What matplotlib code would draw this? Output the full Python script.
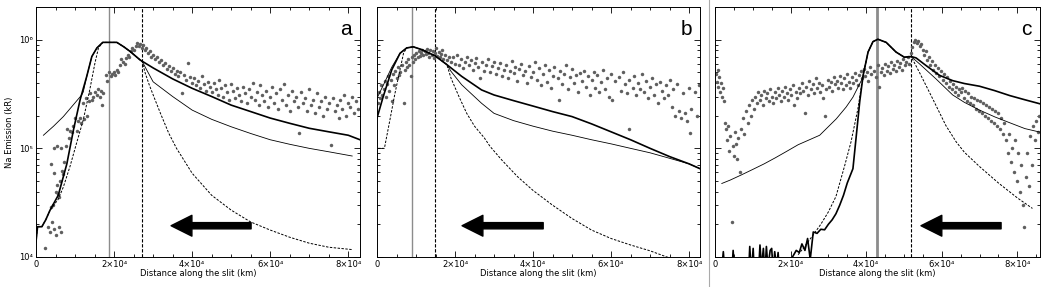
import numpy as np
import matplotlib
matplotlib.use('Agg')
import matplotlib.pyplot as plt
from matplotlib.lines import Line2D
from matplotlib.ticker import FixedLocator, LogLocator, NullFormatter

# distances in 10^3 km, emission in kR
panel_labels = ['a', 'b', 'c']
xmax = [83, 82.8, 86]
xtick_vals = [0, 2e4, 4e4, 6e4, 8e4]
xtick_labels = ['0', '2×10⁴', '4×10⁴', '6×10⁴', '8×10⁴']
ytick_vals = [1e4, 1e5, 1e6]
ytick_labels = ['10⁴', '10⁵', '10⁶']

# vertical markers (solid gray, dashed black)
vline_gray = [18.7, 9.0, 42.9]
vline_dash = [27.2, 14.9, 51.9]
# arrow (tail x, head x, y)
arrow_tail = [55.1, 42.6, 75.7]
arrow_head = [34.6, 21.8, 54.5]
arrow_y = [1.94e4, 1.94e4, 1.94e4]

# ---- panel a ----
a_thick_x = [0, 0.4, 1.5, 2.5, 3.6, 5.7, 7.9, 9.6, 11.3, 13.0, 14.3, 15.6, 17.1, 20.7, 22.5, 24.1, 26.7, 30, 35, 40, 45, 50, 55, 60, 65, 70, 75, 80, 83]
a_thick_y = [1.38e4, 1.9e4, 1.9e4, 2.2e4, 2.7e4, 3.7e4, 7.2e4, 1.48e5, 2.8e5, 4.6e5, 7.0e5, 8.4e5, 9.45e5, 9.45e5, 8.6e5, 7.8e5, 6.5e5, 5.5e5, 4.36e5, 3.57e5, 3.0e5, 2.5e5, 2.18e5, 1.9e5, 1.7e5, 1.53e5, 1.42e5, 1.32e5, 1.2e5]
a_thin_x = [1.9, 4.5, 7.0, 9.5, 11.7, 12.1, 13.0, 14.3, 15.6, 17.1, 20.7, 22.5, 24.1, 26.7, 27.2, 30, 35, 40, 45, 50, 55, 60, 65, 70, 75, 81]
a_thin_y = [1.32e5, 1.6e5, 1.96e5, 2.5e5, 3.1e5, 3.3e5, 4.6e5, 7.0e5, 8.4e5, 9.45e5, 9.45e5, 8.6e5, 7.8e5, 6.5e5, 6.3e5, 4.1e5, 3.0e5, 2.25e5, 1.85e5, 1.58e5, 1.37e5, 1.2e5, 1.09e5, 1.0e5, 9.3e4, 8.5e4]
a_dash_x = [0, 0.4, 1.5, 2.5, 3.6, 5.7, 7.0, 8.7, 10.4, 12.1, 13.8, 15.1, 16.0, 17.1, 20.7, 22.5, 24.1, 26.7, 27.2, 28, 29, 30.5, 32, 34, 36, 40, 45, 50, 55, 60, 65, 70, 75, 81]
a_dash_y = [1.38e4, 1.9e4, 1.9e4, 2.2e4, 2.7e4, 3.4e4, 4.4e4, 6.8e4, 1.12e5, 1.82e5, 3.5e5, 6.1e5, 8.4e5, 9.45e5, 9.45e5, 8.6e5, 7.8e5, 6.5e5, 6.3e5, 4.9e5, 3.85e5, 2.8e5, 2.05e5, 1.38e5, 1.0e5, 5.9e4, 3.7e4, 2.7e4, 2.1e4, 1.77e4, 1.52e4, 1.34e4, 1.23e4, 1.17e4]
a_pts_x = [2.3, 3.0, 3.5, 4.2, 4.6, 5.0, 5.8, 6.4, 3.8, 4.4, 5.2, 5.6, 6.0, 4.6, 5.3, 6.1, 3.8, 6.6, 7.0, 4.6, 5.5, 6.3, 7.2, 7.6, 8.0, 8.4, 8.8, 9.2, 9.6, 10.0,
           10.4, 10.8, 11.2, 11.6, 12.0, 12.3, 12.7, 13.1, 13.5, 13.9, 14.3, 14.7, 15.1, 15.5, 15.9, 16.3, 16.7, 17.1, 16.8, 17.9, 18.3, 18.7, 19.1, 19.5, 19.9, 20.3, 20.7, 21.1, 21.5, 21.9,
           22.3, 22.7, 23.1, 23.5, 23.9, 24.3, 24.7, 25.1, 25.5, 25.9, 26.3, 26.7, 27.1, 27.5, 27.9, 28.3, 28.7, 29.1, 29.5, 30.0, 30.5, 31.0, 31.5, 32.0, 32.5, 33.0, 33.5, 34.0, 34.5, 35.0,
           35.5, 36.0, 36.5, 37.0, 37.5, 38.0, 38.5, 39.0, 39.5, 40.0, 40.5, 41.0, 41.5, 42.0, 42.5, 43.0, 43.5, 44.0, 44.5, 45.0, 45.5, 46.0, 46.5, 47.0, 47.5, 48.0, 48.5, 49.0, 49.5, 50.0,
           50.5, 51.0, 51.5, 52.0, 52.5, 53.0, 53.5, 54.0, 54.5, 55.0, 55.5, 56.0, 56.5, 57.0, 57.5, 58.0, 58.5, 59.0, 59.5, 60.0, 60.5, 61.0, 61.5, 62.0, 62.5, 63.0, 63.5, 64.0, 64.5, 65.0,
           65.5, 66.0, 66.5, 67.0, 67.5, 68.0, 68.5, 69.0, 69.5, 70.0, 70.5, 71.0, 71.5, 72.0, 72.5, 73.0, 73.5, 74.0, 74.5, 75.0, 75.5, 76.0, 76.5, 77.0, 77.5, 78.0, 78.5, 79.0, 79.5, 80.0,
           80.5, 81.0, 81.5, 82.0, 82.5]
a_pts_y = [0.12, 0.19, 0.17, 0.21, 0.18, 0.16, 0.19, 0.17, 0.29, 0.3, 0.4, 0.38, 0.36, 0.59, 0.46, 0.5, 0.72, 0.62, 0.58, 1.0, 1.05, 1.0, 0.75, 1.05, 1.5, 1.25, 1.45, 1.4, 1.6, 1.9,
           1.45, 1.8, 1.9, 1.7, 2.6, 1.85, 2.9, 2.0, 2.7, 3.2, 2.8, 3.0, 3.3, 3.1, 3.5, 3.0, 3.4, 3.2, 2.5, 4.7, 4.2, 5.0, 4.6, 4.8, 5.0, 4.7, 5.3, 5.0, 5.8, 6.6,
           6.2, 6.0, 6.8, 7.2, 7.0, 7.8, 8.3, 8.0, 8.8, 9.3, 8.7, 9.1, 8.4, 8.9, 8.0, 8.3, 7.5, 7.8, 7.0, 7.3, 6.6, 6.9, 6.2, 6.5, 5.8, 6.1, 5.4, 5.7, 5.1, 5.5,
           4.8, 5.2, 4.6, 5.0, 3.2, 4.7, 4.3, 6.1, 4.5, 4.0, 4.4, 3.8, 4.2, 3.6, 4.6, 3.9, 3.4, 4.1, 3.7, 3.3, 4.0, 3.5, 3.1, 4.3, 3.6, 3.0, 3.8, 3.3, 2.8, 3.9,
           3.4, 2.9, 3.6, 3.1, 2.7, 3.7, 3.2, 2.6, 3.5, 3.0, 4.0, 2.8, 3.3, 2.5, 3.8, 3.1, 2.7, 3.4, 2.4, 3.0, 3.7, 2.6, 3.2, 2.3, 3.5, 2.8, 3.9, 2.5, 3.1, 2.2,
           3.4, 2.7, 3.0, 2.4, 1.38, 3.3, 2.6, 2.9, 2.2, 3.5, 2.5, 2.8, 2.1, 3.2, 2.4, 2.7, 2.0, 3.0, 2.3, 2.6, 1.08, 2.9, 2.2, 2.5, 1.9, 2.8, 2.3, 3.1, 2.0, 2.6,
           2.4, 3.0, 2.1, 2.7, 2.3]

# ---- panel b ----
b_thick_x = [0, 1.6, 3.8, 5.9, 7.6, 9.3, 11.5, 14.9, 17.9, 21.7, 26.8, 30, 35, 40, 45, 50, 55, 60, 65, 70, 75, 80, 82.8]
b_thick_y = [1.9e5, 3.0e5, 5.3e5, 7.5e5, 8.4e5, 8.6e5, 8.1e5, 7.1e5, 5.9e5, 4.6e5, 3.45e5, 3.1e5, 2.75e5, 2.45e5, 2.18e5, 1.96e5, 1.68e5, 1.42e5, 1.2e5, 1.0e5, 8.4e4, 7.2e4, 6.5e4]
b_thin_x = [0, 1.6, 3.8, 5.9, 7.6, 9.3, 11.5, 14.9, 17.9, 19.0, 21.7, 26.8, 30, 35, 40, 45, 50, 55, 60, 65, 70, 75, 80, 82.8]
b_thin_y = [2.9e5, 3.8e5, 5.6e5, 7.5e5, 8.4e5, 8.6e5, 8.1e5, 7.1e5, 5.9e5, 5.1e5, 3.85e5, 2.6e5, 2.1e5, 1.8e5, 1.6e5, 1.44e5, 1.32e5, 1.2e5, 1.1e5, 1.0e5, 9.1e4, 8.1e4, 7.2e4, 6.5e4]
b_dash_x = [0.3, 1.9, 3.3, 4.6, 5.9, 6.8, 7.6, 9.3, 11.5, 14.9, 17.9, 19.0, 21.0, 23.0, 25.0, 27.5, 29, 32, 36, 40, 45, 50, 55, 60, 65, 70, 74.3, 78]
b_dash_y = [1.0e5, 1.0e5, 1.82e5, 3.2e5, 5.3e5, 7.5e5, 8.4e5, 8.6e5, 8.1e5, 7.1e5, 5.9e5, 4.4e5, 3.0e5, 2.1e5, 1.6e5, 1.25e5, 1.04e5, 7.8e4, 5.5e4, 4.1e4, 3.0e4, 2.26e4, 1.77e4, 1.48e4, 1.29e4, 1.14e4, 1.0e4, 9.2e3]
b_pts_x = [0.2, 0.5, 0.8, 1.1, 1.4, 1.7, 2.0, 2.3, 2.6, 2.9, 3.2, 3.5, 3.8, 4.1, 4.4, 4.7, 5.0, 5.3, 5.6, 5.9, 6.5, 6.8, 7.1, 7.4, 7.7, 8.0, 8.3, 8.6, 8.9, 9.2,
           9.5, 9.8, 10.1, 10.4, 10.7, 11.0, 11.3, 11.6, 11.9, 12.2, 12.5, 12.8, 13.1, 13.4, 13.7, 14.0, 14.3, 14.6, 14.9, 15.2, 15.5, 15.8, 16.1, 16.4, 16.7, 17.0, 17.5, 18.0, 18.5, 19.0,
           19.5, 20.0, 20.5, 21.0, 21.5, 22.0, 22.5, 23.0, 23.5, 24.0, 24.5, 25.0, 25.5, 26.0, 26.5, 27.0, 27.5, 28.0, 28.5, 29.0, 29.5, 30.0, 30.5, 31.0, 31.5, 32.0, 32.5, 33.0, 33.5, 34.0,
           34.5, 35.0, 35.5, 36.0, 36.5, 37.0, 37.5, 38.0, 38.5, 39.0, 39.5, 40.0, 40.5, 41.0, 41.5, 42.0, 42.5, 43.0, 43.5, 44.0, 44.5, 45.0, 45.5, 46.6, 46.5, 47.0, 47.5, 48.0, 48.5, 49.0,
           49.5, 50.0, 50.5, 51.0, 51.5, 52.0, 52.5, 53.0, 53.5, 54.0, 54.5, 55.0, 55.5, 56.0, 56.5, 57.0, 57.5, 58.0, 58.5, 59.0, 59.5, 60.0, 60.3, 61.0, 62.0, 62.5, 63.0, 63.5, 64.0, 64.5,
           64.5, 65.5, 66.0, 66.5, 67.0, 67.5, 68.0, 68.5, 69.0, 69.5, 70.0, 70.5, 71.0, 71.5, 72.0, 72.5, 73.0, 73.5, 74.0, 74.5, 75.0, 75.5, 76.0, 76.5, 77.0, 77.5, 78.0, 78.5, 79.0, 79.5,
           80.0, 80.5, 80.3, 81.5, 82.0, 82.5]
b_pts_y = [2.6, 3.3, 2.9, 3.8, 3.1, 3.5, 4.2, 3.0, 3.9, 4.6, 3.4, 4.3, 2.7, 4.8, 3.8, 5.2, 4.4, 5.6, 4.7, 5.0, 5.8, 2.6, 5.3, 6.2, 5.6, 6.6, 5.9, 4.6, 6.9, 6.3,
           7.2, 6.6, 7.5, 6.9, 7.8, 7.1, 7.6, 8.0, 7.3, 7.9, 7.4, 8.2, 7.6, 7.0, 8.0, 7.3, 7.9, 6.8, 7.6, 8.3, 7.1, 7.7, 6.9, 7.4, 8.1, 6.7, 7.2, 6.5, 7.0, 6.2,
           6.9, 6.0, 7.3, 5.8, 6.6, 5.5, 6.3, 7.0, 5.9, 6.5, 5.3, 6.1, 6.8, 5.6, 4.4, 6.2, 5.2, 5.9, 6.6, 5.0, 5.7, 6.3, 4.8, 5.5, 6.1, 4.6, 5.3, 5.9, 4.4, 5.1,
           6.4, 4.9, 5.6, 4.2, 5.4, 6.0, 4.7, 5.2, 4.0, 5.7, 4.5, 5.0, 6.2, 4.3, 5.5, 3.8, 4.8, 5.8, 4.1, 5.3, 3.6, 4.6, 5.6, 2.8, 4.4, 5.1, 3.9, 4.8, 5.9, 3.5,
           4.5, 5.4, 4.0, 4.7, 3.3, 4.9, 4.2, 5.2, 3.7, 4.6, 3.1, 4.3, 5.0, 3.6, 4.7, 3.3, 4.1, 5.3, 3.5, 4.4, 3.0, 4.8, 2.8, 4.2, 4.5, 3.4, 5.0, 3.9, 3.2, 4.3,
           1.5, 3.6, 4.6, 3.1, 4.0, 3.5, 4.8, 3.3, 4.2, 2.9, 3.7, 4.4, 3.1, 3.9, 2.6, 4.1, 3.4, 2.9, 3.8, 3.1, 4.3, 2.4, 3.5, 2.0, 3.9, 2.2, 1.9, 3.2, 2.1, 1.8,
           3.6, 2.3, 1.38, 3.3, 2.0, 3.8]

# ---- panel c ----
c_thick_x = [1.5, 2.2, 2.8, 4.3, 4.8, 5.3, 8.8, 9.2, 9.6, 10.1, 10.5, 11.5, 11.9, 12.3, 12.8, 13.2, 13.6, 14.0, 14.6, 15.0, 15.4, 15.8, 16.3, 16.7, 17.2, 19.5, 20.5, 21.5, 22.3, 23.0,
             23.8, 24.5, 25.2, 26, 27, 28, 29, 30, 31, 32, 33, 34, 35, 36.5, 37.4, 38.3, 39.2, 40.5, 41.8, 43.1, 45.3, 47.9, 50.1, 51.9, 53.2, 55.8, 59.4, 62.9, 66, 70,
             74, 78, 82, 86]
c_thick_y = [6e3, 1.12e4, 6e3, 6e3, 1.15e4, 6e3, 6e3, 1.25e4, 7e3, 1.2e4, 6e3, 7e3, 1.29e4, 8e3, 1.2e4, 7e3, 1.25e4, 8e3, 1.15e4, 1.2e4, 7e3, 1.12e4, 8e3, 1.1e4, 6e3, 6e3, 1.0e4, 1.15e4, 1.1e4, 1.32e4,
             1.15e4, 1.48e4, 9.5e3, 1.7e4, 1.65e4, 1.8e4, 1.78e4, 2.0e4, 2.2e4, 2.5e4, 3.0e4, 3.7e4, 4.8e4, 6.5e4, 1.32e5, 2.7e5, 4.7e5, 7.7e5, 9.6e5, 1.01e6, 9.45e5, 7.7e5, 6.9e5, 7.0e5, 6.8e5, 5.8e5, 4.7e5, 4.2e5, 3.95e5, 3.73e5,
             3.4e5, 3.06e5, 2.8e5, 2.57e5]
c_thin_x = [1.8, 4, 7, 10, 13, 16, 19, 22, 25, 27.7, 32.1, 34.7, 36.5, 38.7, 39.2, 40.5, 41.8, 43.1, 45.3, 47.9, 50.1, 51.9, 54.1, 58.5, 62.9, 66, 70, 74, 78, 82, 86]
c_thin_y = [4.75e4, 5.1e4, 5.7e4, 6.4e4, 7.2e4, 8.2e4, 9.4e4, 1.08e5, 1.2e5, 1.32e5, 1.87e5, 2.4e5, 2.96e5, 4.2e5, 4.7e5, 7.7e5, 9.6e5, 1.01e6, 9.45e5, 7.7e5, 6.9e5, 7.0e5, 6.0e5, 4.35e5, 3.1e5, 2.65e5, 2.25e5, 1.95e5, 1.72e5, 1.52e5, 1.41e5]
c_dash_x = [22, 24, 26, 28, 30, 32, 34.3, 36.0, 37.8, 39.2, 40.5, 41.8, 43.1, 45.3, 47.9, 50.1, 51.9, 54.1, 57.6, 61.1, 63.8, 66, 70, 75, 80, 84]
c_dash_y = [1.05e4, 1.29e4, 1.6e4, 2.0e4, 2.6e4, 3.6e4, 6.9e4, 1.15e5, 2.3e5, 4.7e5, 7.7e5, 9.6e5, 1.01e6, 9.45e5, 7.7e5, 6.9e5, 7.0e5, 5.0e5, 2.86e5, 1.62e5, 1.15e5, 9.2e4, 6.8e4, 4.8e4, 3.5e4, 2.8e4]
c_pts_x = [0.3, 0.5, 0.7, 0.9, 1.1, 1.3, 1.5, 1.8, 2.0, 2.3, 2.6, 2.9, 3.2, 3.5, 3.8, 4.1, 4.4, 4.7, 5.0, 5.3, 5.6, 5.9, 6.2, 6.6, 7.0, 7.4, 7.8, 8.2, 8.6, 9.0,
           9.4, 9.8, 10.2, 10.6, 11.0, 11.4, 11.8, 12.2, 12.6, 13.0, 13.4, 13.8, 14.2, 14.6, 15.0, 15.4, 15.8, 16.2, 16.6, 17.0, 17.4, 17.8, 18.2, 18.6, 19.0, 19.4, 19.8, 20.2, 20.6, 21.0,
           21.4, 21.8, 22.2, 22.6, 23.0, 23.4, 23.8, 24.2, 24.6, 25.0, 25.4, 25.8, 26.2, 26.6, 27.0, 27.4, 27.8, 28.2, 28.6, 29.0, 29.4, 29.8, 30.2, 30.6, 31.0, 31.4, 31.8, 32.2, 32.6, 33.0,
           33.4, 33.8, 34.2, 34.6, 35.0, 35.4, 35.8, 36.2, 36.6, 37.0, 37.4, 37.8, 38.2, 38.6, 39.0, 39.4, 39.8, 40.2, 40.6, 41.0, 41.4, 42.2, 42.6, 43.0, 43.4, 43.8, 44.2, 44.6, 45.0, 45.4,
           45.8, 46.2, 46.6, 47.0, 47.4, 47.8, 48.2, 48.6, 49.0, 49.4, 49.8, 50.2, 50.6, 51.0, 51.4, 51.8, 52.2, 52.6, 53.0, 53.4, 53.8, 54.2, 54.6, 55.0, 55.4, 55.8, 56.2, 56.6, 57.0, 57.4,
           57.8, 58.2, 58.6, 59.0, 59.4, 59.8, 60.2, 60.6, 61.0, 61.4, 61.8, 62.2, 62.6, 63.0, 63.4, 63.8, 64.2, 64.6, 65.0, 65.4, 65.8, 66.2, 66.6, 67.0, 67.4, 67.8, 68.2, 68.6, 69.0, 69.4,
           69.8, 70.2, 70.6, 71.0, 71.4, 71.8, 72.2, 72.6, 73.0, 73.4, 73.8, 74.2, 74.6, 75.0, 75.4, 75.8, 76.2, 76.6, 77.0, 77.4, 77.8, 78.2, 78.6, 79.0, 79.4, 79.8, 80.2, 80.6, 81.0, 81.4,
           81.8, 82.2, 82.6, 83.0, 83.4, 83.8, 84.2, 84.6, 85.0, 85.4, 85.8]
c_pts_y = [4.8, 4.1, 5.3, 3.7, 4.5, 3.3, 4.0, 3.0, 3.6, 2.7, 1.7, 1.5, 1.2, 1.6, 0.95, 1.3, 0.21, 1.05, 0.85, 1.4, 1.1, 0.8, 1.25, 0.6, 1.5, 1.9, 1.35, 2.2, 1.7, 2.5,
           2.0, 2.8, 2.3, 3.0, 2.6, 3.3, 2.8, 3.1, 2.5, 3.4, 2.9, 3.2, 2.7, 3.5, 3.0, 2.6, 3.3, 2.9, 3.6, 3.1, 2.7, 3.4, 3.0, 3.7, 3.2, 2.8, 3.5, 3.1, 3.8, 2.5,
           3.3, 2.9, 3.6, 3.2, 4.0, 3.4, 2.1, 3.7, 3.1, 4.2, 3.5, 3.9, 3.2, 4.4, 3.6, 4.0, 3.3, 3.8, 2.9, 2.0, 3.5, 4.3, 3.7, 4.1, 3.4, 4.5, 3.9, 4.2, 3.6, 4.6,
           4.0, 3.5, 4.4, 3.8, 4.8, 4.1, 3.6, 4.5, 4.0, 4.9, 4.3, 3.8, 4.7, 5.1, 4.4, 5.4, 4.6, 5.0, 4.2, 5.6, 4.8, 5.2, 4.5, 5.8, 3.7, 5.0, 5.5, 4.7, 6.0, 5.2,
           5.7, 4.9, 6.2, 5.4, 5.9, 5.1, 6.4, 5.6, 6.1, 5.3, 6.6, 5.8, 6.3, 7.0, 6.0, 7.6, 8.5, 9.6, 10.0, 9.3, 9.8, 8.8, 9.2, 8.0, 7.2, 7.8, 6.5, 7.0, 5.9, 6.4,
           5.3, 5.8, 4.9, 5.5, 4.6, 5.1, 4.3, 4.8, 4.0, 4.5, 3.7, 4.2, 3.5, 3.9, 3.3, 3.7, 3.1, 3.5, 3.3, 3.6, 2.9, 3.4, 2.7, 3.2, 2.6, 3.0, 2.5, 2.9, 2.3, 2.8,
           2.2, 2.7, 2.1, 2.6, 2.0, 2.5, 1.9, 2.4, 1.8, 2.3, 1.7, 2.2, 1.6, 2.1, 1.5, 1.9, 1.35, 1.7, 1.2, 0.9, 1.35, 0.75, 1.0, 0.6, 1.2, 0.5, 0.9, 0.4, 0.7, 0.3,
           0.19, 0.55, 0.9, 0.45, 1.3, 0.7, 1.6, 1.2, 1.8, 1.4, 2.0]

curves = [
    (a_thick_x, a_thick_y, a_thin_x, a_thin_y, a_dash_x, a_dash_y, a_pts_x, a_pts_y),
    (b_thick_x, b_thick_y, b_thin_x, b_thin_y, b_dash_x, b_dash_y, b_pts_x, b_pts_y),
    (c_thick_x, c_thick_y, c_thin_x, c_thin_y, c_dash_x, c_dash_y, c_pts_x, c_pts_y),
]

W, H = 1042, 287
fig = plt.figure(figsize=(W / 100, H / 100), dpi=100)
boxes = [(36, 360), (377, 700), (715, 1040)]
top, bottom = 7, 257

for i, (l, r) in enumerate(boxes):
    ax = fig.add_axes([l / W, 1 - bottom / H, (r - l) / W, (bottom - top) / H])
    tx, ty, nx, ny, dx, dy, px, py = curves[i]
    k = 1e3
    ax.plot(np.array(px) * k, np.array(py) * 1e5, 'o', ms=2.5, color='#5f5f5f', mew=0, zorder=2)
    ax.plot(np.array(nx) * k, ny, '-', color='black', lw=0.6, zorder=3)
    ax.plot(np.array(dx) * k, dy, color='black', lw=0.7, ls=(0, (2.5, 1.5)), zorder=3)
    ax.plot(np.array(tx) * k, ty, '-', color='black', lw=1.2, zorder=4)
    ax.axvline(vline_gray[i] * k, color='#8c8c8c', lw=2.0 if i == 2 else 1.0, zorder=1)
    ax.axvline(vline_dash[i] * k, color='black', lw=0.8, ls=(0, (3, 1.5)), zorder=1)
    ax.annotate('', xy=(arrow_head[i] * k, arrow_y[i]), xytext=(arrow_tail[i] * k, arrow_y[i]),
                arrowprops=dict(arrowstyle='simple,head_length=1.5,head_width=1.5,tail_width=0.45',
                                mutation_scale=10, color='black', shrinkA=0, shrinkB=0))
    ax.set_yscale('log')
    ax.set_xlim(0, xmax[i] * k)
    ax.set_ylim(1e4, 2e6)
    ax.xaxis.set_major_locator(FixedLocator(xtick_vals))
    ax.xaxis.set_minor_locator(FixedLocator(np.arange(0, xmax[i] * k, 5000)))
    ax.set_xticklabels(xtick_labels)
    ax.yaxis.set_major_locator(FixedLocator(ytick_vals))
    ax.yaxis.set_minor_locator(LogLocator(base=10, subs=np.arange(2, 10)))
    ax.yaxis.set_minor_formatter(NullFormatter())
    if i == 0:
        ax.set_yticklabels(ytick_labels)
        ax.set_ylabel('Na Emission (kR)', fontsize=6, labelpad=4)
    else:
        ax.set_yticklabels([])
    ax.tick_params(which='both', direction='in', top=True, right=True, labelsize=6, width=0.6, pad=2)
    ax.tick_params(which='major', length=4)
    ax.tick_params(which='minor', length=2)
    ax.set_xlabel('Distance along the slit (km)', fontsize=6, labelpad=0)
    for s in ax.spines.values():
        s.set_linewidth(0.7)
    ax.text(0.975, 0.91, panel_labels[i], transform=ax.transAxes, fontsize=15,
            ha='right', va='center', family='Liberation Sans')

fig.add_artist(Line2D([709 / W, 709 / W], [0, 1], color='#aaaaaa', lw=0.8))

fig.savefig('out.png', dpi=100)
